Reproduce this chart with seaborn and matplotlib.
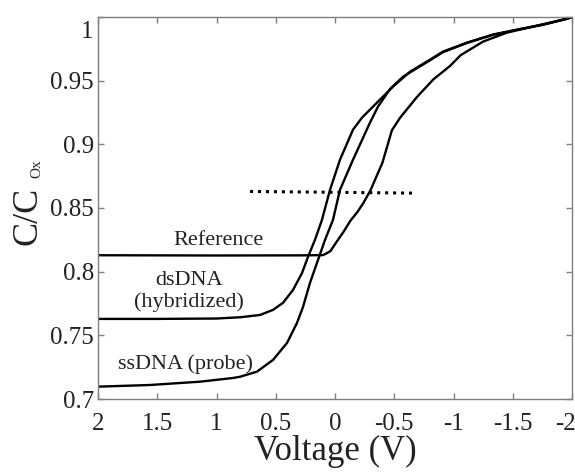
import numpy as np
import pandas as pd
import matplotlib
matplotlib.use("Agg")
import matplotlib.pyplot as plt
import matplotlib.transforms as mtransforms
import seaborn as sns

# ---- data ----
ref_v = [2.0, 1.0, 0.30, 0.10, 0.04, -0.025, -0.07, -0.13, -0.19, -0.24, -0.30,
         -0.40, -0.48, -0.55, -0.69, -0.83, -0.97, -1.06, -1.25, -1.45, -1.67, -1.96, -2.0]
ref_c = [0.8129, 0.8127, 0.8128, 0.8130, 0.8160, 0.8250, 0.8310, 0.8400, 0.8470, 0.8540, 0.8640,
         0.8855, 0.9110, 0.9210, 0.9370, 0.9510, 0.9615, 0.9700, 0.9807, 0.9877, 0.9925, 0.9987, 1.0]

ds_v = [2.0, 1.5, 1.0, 0.80, 0.633, 0.523, 0.439, 0.354, 0.278, 0.228, 0.169, 0.110, 0.042,
        -0.042, -0.152, -0.228, -0.354, -0.489, -0.633, -0.802, -0.911, -1.114, -1.333,
        -1.536, -1.755, -1.958, -2.0]
ds_c = [0.7629, 0.7629, 0.7632, 0.7642, 0.7660, 0.7700, 0.7755, 0.7857, 0.7990, 0.8116, 0.8250,
        0.8407, 0.8643, 0.8879, 0.9115, 0.9210, 0.9327, 0.9453, 0.9570, 0.9665, 0.9728, 0.9799,
        0.9862, 0.9901, 0.9940, 0.9987, 1.0]

ss_v = [2.0, 1.561, 1.139, 0.861, 0.80, 0.658, 0.523, 0.405, 0.321, 0.270, 0.211, 0.143, 0.084,
        0.017, -0.042, -0.152, -0.295, -0.363, -0.464, -0.574, -0.633, -0.802, -0.911, -1.114,
        -1.333, -1.536, -1.755, -1.958, -2.0]
ss_c = [0.7097, 0.7110, 0.7136, 0.7165, 0.7175, 0.7215, 0.7307, 0.7440, 0.7597, 0.7723, 0.7912,
        0.8093, 0.8250, 0.8407, 0.8643, 0.8879, 0.9170, 0.9296, 0.9434, 0.9531, 0.9565, 0.9660,
        0.9724, 0.9796, 0.9860, 0.9899, 0.9939, 0.9986, 1.0]

dot_v = [0.72, -0.65]
dot_c = [0.8630, 0.8617]

labels = ["Reference", "dsDNA\n(hybridized)", "ssDNA (probe)"]
xticks = [2, 1.5, 1, 0.5, 0, -0.5, -1, -1.5, -2]
xticklabels = ["2", "1.5", "1", "0.5", "0", "-0.5", "-1", "-1.5", "-2"]
yticks = [0.7, 0.75, 0.8, 0.85, 0.9, 0.95, 1.0]
yticklabels = ["0.7", "0.75", "0.8", "0.85", "0.9", "0.95", "1"]

df = pd.concat([
    pd.DataFrame({"V": ref_v, "C": ref_c, "series": "Reference"}),
    pd.DataFrame({"V": ds_v, "C": ds_c, "series": "dsDNA"}),
    pd.DataFrame({"V": ss_v, "C": ss_c, "series": "ssDNA"}),
])
df_dot = pd.DataFrame({"V": dot_v, "C": dot_c})

sns.set_style("ticks")
plt.rcParams["font.family"] = ["Liberation Serif", "DejaVu Serif"]

fig = plt.figure(figsize=(5.75, 4.76), dpi=100)
ax = fig.add_axes([98 / 575, 1 - 399 / 476, (572 - 98) / 575, (399 - 17) / 476])

sns.lineplot(data=df, x="V", y="C", hue="series", units="series", estimator=None,
             sort=False, palette=["black", "black", "black"], linewidth=1.7,
             legend=False, ax=ax)
sns.lineplot(data=df_dot, x="V", y="C", color="black", linestyle=(0, (1.0, 1.6)),
             linewidth=2.2, estimator=None, ax=ax)

ax.set_xlim(2, -2)
ax.set_ylim(0.7, 1.0)
ax.set_xticks(xticks)
ax.set_xticklabels(xticklabels)
ax.set_yticks(yticks)
ax.set_yticklabels(yticklabels)

gray = "#7f7f7f"
for s in ax.spines.values():
    s.set_color(gray)
    s.set_linewidth(1.0)
ax.tick_params(axis="both", direction="in", length=4, width=1.0, color=gray,
               top=True, right=True, labelsize=18, labelcolor="#222222")
ax.tick_params(axis="x", pad=10)
ax.tick_params(axis="y", pad=3)

# the top "1" label sits a bit lower than its tick in the reference
lab1 = ax.get_yticklabels()[-1]
lab1.set_transform(lab1.get_transform() + mtransforms.ScaledTranslation(0, -12 / 100, fig.dpi_scale_trans))
# keep the last x label inside the figure
labm2 = ax.get_xticklabels()[-1]
labm2.set_transform(labm2.get_transform() + mtransforms.ScaledTranslation(-6 / 100, 0, fig.dpi_scale_trans))

ax.set_xlabel("Voltage (V)", fontsize=25, color="#222222", labelpad=0)
ax.set_ylabel("")
fig.text(28 / 575, 1 - 216 / 476, "C/C", rotation=90, fontsize=26, color="#222222",
         ha="center", va="center")
fig.text(37 / 575, 1 - 169 / 476, "Ox", rotation=90, fontsize=11, color="#222222",
         ha="center", va="center")

ax.text(0.98, 0.8245, labels[0], fontsize=16, ha="center", va="center", color="#222222")
ax.text(1.23, 0.7845, labels[1], fontsize=16, ha="center", va="center", color="#222222",
        linespacing=1.2)
ax.text(1.26, 0.7275, labels[2], fontsize=16, ha="center", va="center", color="#222222")

fig.savefig("out.png", dpi=100)
